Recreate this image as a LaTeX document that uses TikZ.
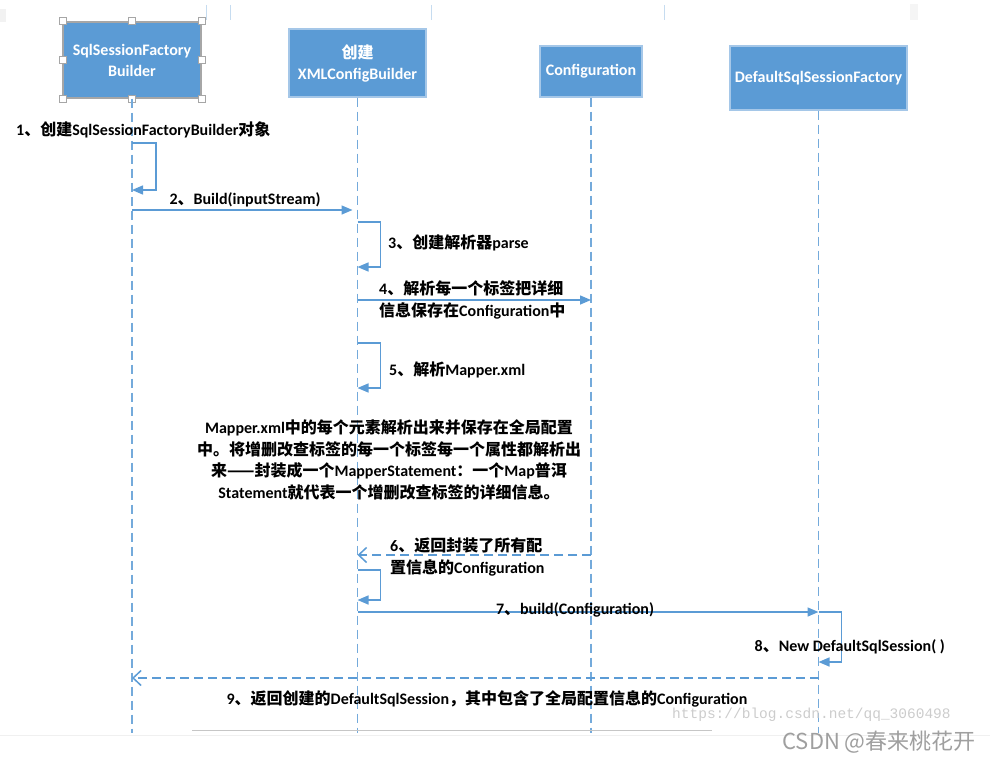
\documentclass[tikz,border=0pt]{standalone}
\usepackage{fontspec}
\setmainfont{Carlito}
\setmonofont{Liberation Mono}
\newfontfamily\cjk{Noto Sans CJK SC}
\newcommand\zh[1]{{\cjk #1}}
\usetikzlibrary{arrows.meta}
\definecolor{lineblue}{RGB}{91,155,213}
\definecolor{boxfill}{RGB}{91,155,213}
\definecolor{boxedge}{RGB}{165,199,232}
\tikzset{
  actor/.style={draw=boxedge, line width=1.2pt, fill=boxfill, text=white, font=\bfseries\fontsize{16}{19}\selectfont, align=center, inner sep=0pt},
  life/.style={draw=lineblue!85, line width=1.5pt, dash pattern=on 9pt off 5pt},
  msg/.style={draw=lineblue, line width=1.5pt, -{Triangle[length=11pt,width=9pt]}},
  ret/.style={draw=lineblue, line width=1.5pt, dash pattern=on 9pt off 5pt, -{Straight Barb[length=8pt,width=15pt]}},
  lbl/.style={font=\bfseries\fontsize{16}{22}\selectfont, inner sep=0pt, text=black},
  handle/.style={draw=gray!70, fill=white, line width=0.8pt, minimum size=7pt, inner sep=0pt}
}
\begin{document}
\begin{tikzpicture}[x=1pt,y=-1pt]
\useasboundingbox (0,0) rectangle (990,760);
% faint artefacts at top
\fill[gray!10] (0,9) rectangle (6,22);
\foreach \xx in {206,230,431,664}{\draw[lineblue!35, line width=0.8pt] (\xx,5) -- (\xx,20);}
\fill[gray!8] (910,4) rectangle (918,20);
% actors
\node[actor, draw=gray!70, minimum width=138pt, minimum height=76pt] (b1) at (132,60) {SqlSessionFactory\\[2pt]Builder};
\node[actor, minimum width=137pt, minimum height=68pt] (b2) at (357.5,63) {\zh{创建}\\[2pt]XMLConfigBuilder};
\node[actor, minimum width=102pt, minimum height=51pt] (b3) at (591,71.5) {Configuration};
\node[actor, minimum width=177pt, minimum height=64pt] (b4) at (818.5,78) {DefaultSqlSessionFactory};
% selection handles
\foreach \p in {north west,north,north east,west,east,south west,south,south east}{\node[handle] at (b1.\p) {};}
% level coordinates
\coordinate (ybot) at (0,733);
\foreach \yy in {143,190,210,222,267,300,343,388,555,570,600,612,662,678}{\coordinate (y\yy) at (0,\yy);}
% lifelines
\draw[life] (b1.south) -- (b1 |- ybot);
\draw[life] (b2.south) -- (b2 |- ybot);
\draw[life] (b3.south) -- (b3 |- ybot);
\draw[life] (b4.south) -- (b4 |- ybot);
% bottom line
\draw[gray!12, line width=1pt] (0,735) -- (990,735);
\draw[gray!45, line width=0.8pt] (192,730) -- (712,730);
% 1
\node[lbl, anchor=west] (l1) at (16,130) {1\zh{、创建}SqlSessionFactoryBuilder\zh{对象}};
\draw[msg] (b1 |- y143) -- ++(24,0) |- (b1 |- y190);
% 2
\node[lbl] (l2) at (245,200) {2\zh{、}Build(inputStream)};
\draw[msg, shorten >=5pt] (b1 |- y210) -- (b2 |- y210);
% 3
\draw[msg] (b2 |- y222) -- ++(23,0) |- (b2 |- y267);
\node[lbl, anchor=west] (l3) at (388,243) {3\zh{、创建解析器}parse};
% 4
\draw[msg] (b2 |- y300) -- (b3 |- y300);
\node[lbl, anchor=west, align=left] (l4) at (379,300) {4\zh{、解析每一个标签把详细}\\\zh{信息保存在}Configuration\zh{中}};
% 5
\draw[msg] (b2 |- y343) -- ++(23,0) |- (b2 |- y388);
\node[lbl, anchor=west] (l5) at (389,370) {5\zh{、解析}Mapper.xml};
% note
\node[lbl, align=center, font=\bfseries\fontsize{16}{21.5}\selectfont] (note) at (389,460) {Mapper.xml\zh{中的每个元素解析出来并保存在全局配置}\\\zh{中。将增删改查标签的每一个标签每一个属性都解析出}\\\zh{来——封装成一个}MapperStatement\zh{：一个}Map\zh{普洱}\\Statement\zh{就代表一个增删改查标签的详细信息。}};
% 6
\draw[ret] (b3 |- y555) -- (b2 |- y555);
\node[lbl, anchor=west, align=left] (l6) at (390,557) {6\zh{、返回封装了所有配}\\\zh{置信息的}Configuration};
\draw[msg] (b2 |- y570) -- ++(23,0) |- (b2 |- y600);
% 7
\draw[msg] (b2 |- y612) -- (b4 |- y612);
\node[lbl] (l7) at (575,610) {7\zh{、}build(Configuration)};
% 8
\draw[msg] (b4 |- y612) -- ++(23,0) |- (b4 |- y662);
\node[lbl, anchor=east] (l8) at (945,647) {8\zh{、}New DefaultSqlSession( )};
% 9
\draw[ret] (b4 |- y678) -- (b1 |- y678);
\node[lbl] (l9) at (487,699) {9\zh{、返回创建的}DefaultSqlSession\zh{，其中包含了全局配置信息的}Configuration};
% watermarks
\node[anchor=west, inner sep=0pt, text=gray!40, font=\ttfamily\fontsize{14.5}{16}\selectfont] (wm) at (672,715) {https://blog.csdn.net/qq\_3060498};
\node[anchor=east, inner sep=0pt, text=gray!75, font=\cjk\fontsize{22}{26}\selectfont] (csdn) at (976,742) {CSDN @春来桃花开};
\end{tikzpicture}
\end{document}
